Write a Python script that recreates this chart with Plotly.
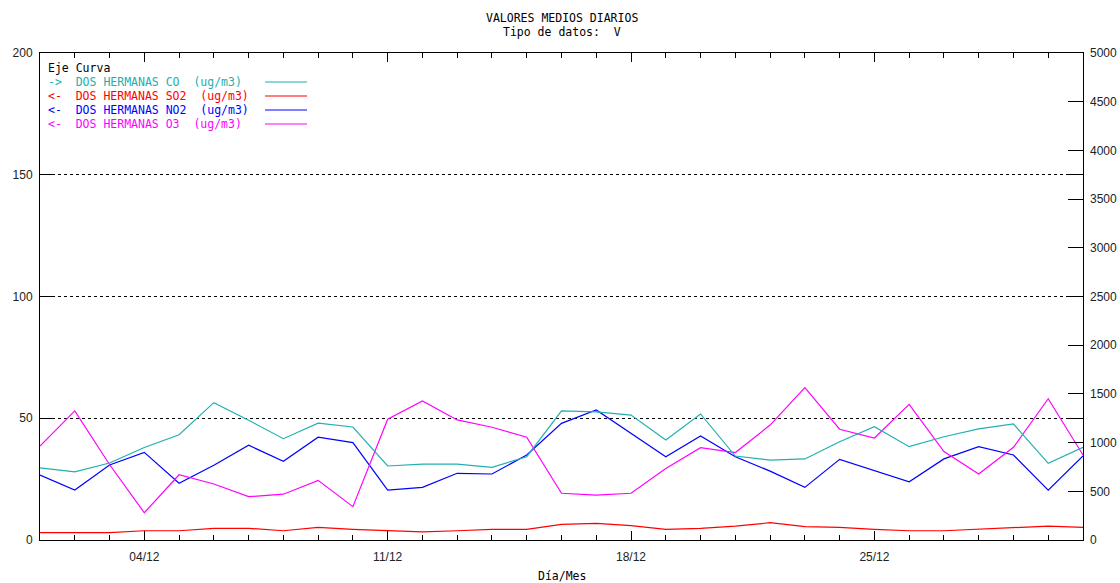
import plotly.graph_objects as go

# Daily mean values, December (day of month)
days = list(range(1, 32))
tick_days = [4, 11, 18, 25]
tick_labels = ["04/12", "11/12", "18/12", "25/12"]

# CO on the right axis (0-5000)
co = [740, 700, 790, 950, 1080, 1410, 1230, 1040, 1200, 1160,
      760, 780, 780, 745, 855, 1325, 1315, 1283, 1027, 1294,
      862, 821, 832, 1009, 1163, 958, 1060, 1140, 1191, 787, 952]
# Left axis (0-200)
so2 = [3.0, 3.0, 3.0, 3.8, 3.8, 4.8, 4.8, 3.8, 5.2, 4.4,
       3.8, 3.3, 3.8, 4.4, 4.4, 6.4, 6.8, 5.9, 4.4, 4.8,
       5.7, 7.1, 5.5, 5.2, 4.4, 3.8, 3.8, 4.4, 5.2, 5.7, 5.2]
no2 = [26.7, 20.5, 30.8, 36.0, 23.3, 30.7, 38.9, 32.3, 42.2, 40.0,
       20.5, 21.6, 27.4, 27.1, 34.9, 47.9, 53.4, 43.8, 34.2, 42.7,
       34.2, 28.3, 21.6, 33.1, 28.5, 23.9, 33.3, 38.3, 34.9, 20.5, 34.5]
o3 = [38.6, 53.0, 31.0, 11.2, 26.8, 23.0, 17.8, 18.8, 24.5, 13.7,
      49.6, 57.1, 49.3, 46.3, 42.2, 19.2, 18.4, 19.2, 29.4, 37.9,
      35.9, 47.2, 62.6, 45.5, 41.9, 55.7, 36.3, 27.1, 38.1, 58.0, 34.9]

# (arrow, name, colour, values, x axis, y axis)
series = [
    ("->", "DOS HERMANAS CO", "#20b0b0", co, "x2", "y2"),
    ("<-", "DOS HERMANAS SO2", "#ff0000", so2, "x", "y"),
    ("<-", "DOS HERMANAS NO2", "#0000ff", no2, "x", "y"),
    ("<-", "DOS HERMANAS O3", "#ff00ff", o3, "x", "y"),
]

W, H = 1120, 583
L, R, T, B = 40, 37, 53, 43
pw, ph = W - L - R, H - T - B


def px(x):
    return (x - L) / pw


def py(y):
    return (H - B - y) / ph


MONO = "DejaVu Sans Mono"
SANS = "Liberation Sans"
NB = "\u00a0"

fig = go.Figure()
for arrow, name, color, vals, xa, ya in series:
    fig.add_trace(go.Scatter(
        x=days, y=vals, xaxis=xa, yaxis=ya, mode="lines",
        line=dict(color=color, width=1.2),
        hoverinfo="skip", showlegend=False
    ))

# Hand-made legend like the original
annotations = [
    dict(text="Eje" + NB + "Curva", x=px(46), y=py(68), xref="paper", yref="paper",
         xanchor="left", yanchor="middle", showarrow=False,
         font=dict(family=MONO, size=11.5, color="black")),
]
shapes = []
for i, (arrow, name, color, vals, xa, ya) in enumerate(series):
    yy = 82 + i * 14
    label = arrow + NB * 2 + name.replace(" ", NB) + NB * 2 + "(ug/m3)"
    annotations.append(dict(
        text=label, x=px(46), y=py(yy), xref="paper", yref="paper",
        xanchor="left", yanchor="middle", showarrow=False,
        font=dict(family=MONO, size=11.5, color=color)))
    shapes.append(dict(type="line", xref="paper", yref="paper",
                       x0=px(265), x1=px(307), y0=py(yy), y1=py(yy),
                       line=dict(color=color, width=1.2)))

# Titles
annotations += [
    dict(text="VALORES" + NB + "MEDIOS" + NB + "DIARIOS", x=0.5, y=py(18),
         xref="paper", yref="paper", xanchor="center", yanchor="middle",
         showarrow=False, font=dict(family=MONO, size=11.5, color="black")),
    dict(text="Tipo" + NB + "de" + NB + "datos:" + NB * 2 + "V", x=0.5, y=py(32),
         xref="paper", yref="paper", xanchor="center", yanchor="middle",
         showarrow=False, font=dict(family=MONO, size=11.5, color="black")),
    dict(text="Día/Mes", x=0.5, y=py(576),
         xref="paper", yref="paper", xanchor="center", yanchor="middle",
         showarrow=False, font=dict(family=MONO, size=11.5, color="black")),
]

xticks = dict(
    range=[1, 31], tickvals=tick_days, ticktext=tick_labels,
    ticks="inside", ticklen=9, tickcolor="black", tickwidth=1,
    minor=dict(dtick=1, tick0=1, ticks="inside", ticklen=5,
               tickcolor="black", showgrid=False),
    showgrid=False, zeroline=False, automargin=False,
    tickfont=dict(family=SANS, size=12, color="#222"),
)

fig.update_layout(
    width=W, height=H,
    margin=dict(l=L, r=R, t=T, b=B),
    paper_bgcolor="white", plot_bgcolor="white",
    showlegend=False, hovermode=False,
    annotations=annotations, shapes=shapes,
    xaxis=dict(showline=True, linecolor="black", linewidth=1, mirror=True,
               ticklabelstandoff=6, **xticks),
    # same day ticks repeated along the top edge
    xaxis2=dict(overlaying="x", side="top", matches="x", showticklabels=False,
                showline=False, **xticks),
    yaxis=dict(
        range=[0, 200], dtick=50, ticks="inside", ticklen=14,
        tickcolor="black", showline=True, linecolor="black", linewidth=1,
        mirror="ticks", showgrid=True, gridcolor="black", griddash="dot",
        gridwidth=1, zeroline=False, ticklabelstandoff=4, automargin=False,
        tickfont=dict(family=SANS, size=12, color="#222"),
    ),
    yaxis2=dict(
        range=[0, 5000], dtick=500, overlaying="y", side="right",
        ticks="inside", ticklen=15, tickcolor="black",
        showline=False, showgrid=False, zeroline=False, ticklabelstandoff=6,
        automargin=False,
        tickfont=dict(family=SANS, size=12, color="#222"),
    ),
)

# remove the default page margin so the figure sits at the window's corner
fig.write_html("out.html", config={"displayModeBar": False},
               post_script="document.body.style.margin='0';")
